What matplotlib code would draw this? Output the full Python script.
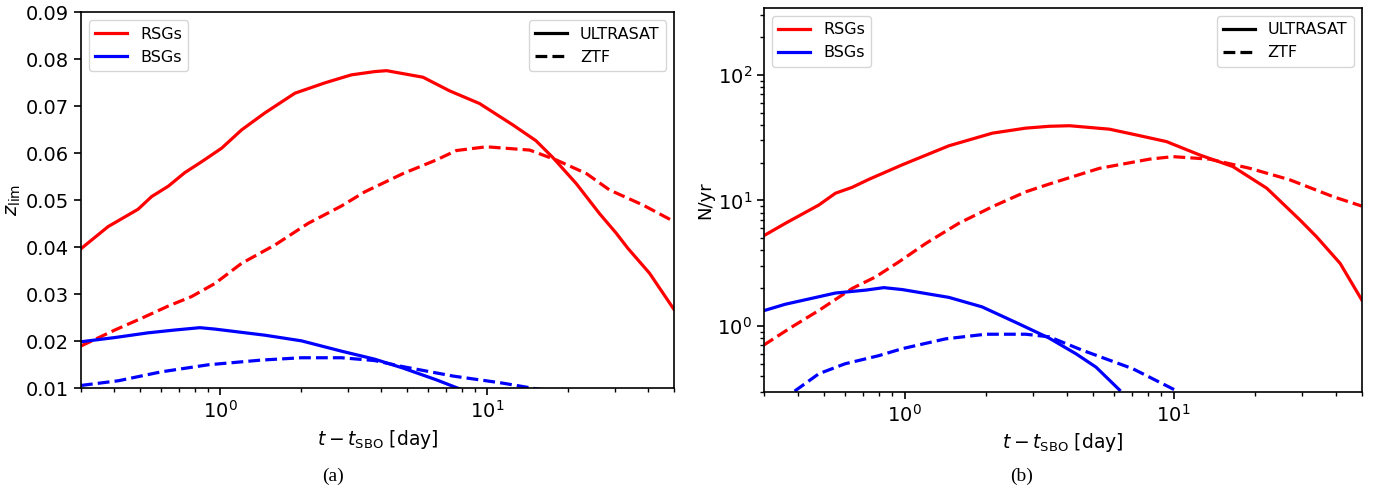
import matplotlib
matplotlib.use("Agg")
import matplotlib.pyplot as plt
from matplotlib.lines import Line2D

# ---- Panel (a): z_lim ----
t_a_rsg_ultra = [0.30, 0.379, 0.491, 0.552, 0.637, 0.735, 0.849, 1.01, 1.20, 1.466, 1.90, 2.46, 3.09, 3.78, 4.19, 5.74, 7.22, 9.35, 12.5, 15.2, 17.6, 21.5, 26.3, 30.4, 33.6, 40.5, 50.0]
z_a_rsg_ultra = [0.0397, 0.0444, 0.0481, 0.0508, 0.0530, 0.0559, 0.0582, 0.0611, 0.0650, 0.0686, 0.0728, 0.0750, 0.0767, 0.0774, 0.0776, 0.0762, 0.0733, 0.0706, 0.0660, 0.0627, 0.0591, 0.0536, 0.0472, 0.0430, 0.0398, 0.0345, 0.0268]

t_a_rsg_ztf = [0.30, 0.402, 0.506, 0.637, 0.778, 0.953, 1.20, 1.60, 2.13, 2.84, 3.47, 4.83, 6.44, 7.65, 9.91, 14.4, 18.1, 23.5, 28.7, 38.3, 50.0]
z_a_rsg_ztf = [0.0190, 0.0224, 0.0249, 0.0275, 0.0295, 0.0323, 0.0366, 0.0405, 0.0451, 0.0488, 0.0518, 0.0557, 0.0586, 0.0606, 0.0614, 0.0607, 0.0586, 0.0557, 0.0522, 0.0490, 0.0455]

t_a_bsg_ultra = [0.30, 0.402, 0.535, 0.674, 0.837, 0.953, 1.466, 2.01, 2.84, 3.78, 4.83, 6.44, 8.1, 9.0]
z_a_bsg_ultra = [0.0199, 0.0208, 0.0218, 0.0224, 0.0229, 0.0226, 0.0213, 0.0201, 0.0179, 0.0162, 0.0143, 0.0118, 0.0096, 0.0085]

t_a_bsg_ztf = [0.30, 0.414, 0.60, 0.899, 1.42, 2.01, 2.84, 3.78, 4.83, 7.44, 11.4, 15.2, 17.0]
z_a_bsg_ztf = [0.0106, 0.0116, 0.0135, 0.0150, 0.0160, 0.0165, 0.0165, 0.0159, 0.0146, 0.0126, 0.0111, 0.0099, 0.0095]

# ---- Panel (b): N/yr ----
t_b_rsg_ultra = [0.298, 0.36, 0.48, 0.553, 0.638, 0.736, 0.98, 1.46, 2.12, 2.82, 3.45, 4.10, 5.77, 7.26, 9.40, 12.5, 16.6, 22.2, 29.5, 34.0, 41.6, 50.0]
n_b_rsg_ultra = [5.2, 6.56, 9.19, 11.4, 12.7, 14.7, 19.2, 27.2, 34.3, 37.6, 38.9, 39.3, 36.9, 33.2, 29.4, 23.0, 18.6, 12.5, 6.98, 5.13, 3.15, 1.62]

t_b_rsg_ztf = [0.298, 0.38, 0.48, 0.638, 0.78, 0.952, 1.20, 1.59, 2.12, 2.82, 3.45, 5.30, 8.14, 9.94, 13.6, 19.2, 27.0, 39.2, 50.0]
n_b_rsg_ztf = [0.70, 0.98, 1.33, 1.99, 2.46, 3.24, 4.55, 6.57, 8.91, 11.7, 13.5, 18.0, 21.3, 22.3, 21.3, 18.0, 14.6, 10.7, 9.02]

t_b_bsg_ultra = [0.298, 0.36, 0.44, 0.553, 0.716, 0.837, 0.98, 1.46, 1.94, 2.66, 3.45, 4.34, 5.15, 6.29]
n_b_bsg_ultra = [1.32, 1.49, 1.64, 1.83, 1.93, 2.02, 1.95, 1.69, 1.42, 1.04, 0.80, 0.60, 0.47, 0.31]

t_b_bsg_ztf = [0.39, 0.48, 0.60, 0.80, 0.98, 1.42, 2.0, 2.82, 3.45, 4.59, 7.05, 10.1]
n_b_bsg_ztf = [0.303, 0.417, 0.50, 0.58, 0.66, 0.79, 0.86, 0.86, 0.82, 0.64, 0.457, 0.31]

xlim = (0.3, 50)
RED, BLUE = "#ff0000", "#0000ff"
LW = 2.3

fig = plt.figure(figsize=(13.79, 4.92), dpi=100)
ax1 = fig.add_axes([0.0587, 0.2108, 0.430, 0.764])
ax2 = fig.add_axes([0.554, 0.2039, 0.4334, 0.7798])

ax1.plot(t_a_rsg_ultra, z_a_rsg_ultra, color=RED, lw=LW, ls="-")
ax1.plot(t_a_rsg_ztf, z_a_rsg_ztf, color=RED, lw=LW, ls="--")
ax1.plot(t_a_bsg_ultra, z_a_bsg_ultra, color=BLUE, lw=LW, ls="-")
ax1.plot(t_a_bsg_ztf, z_a_bsg_ztf, color=BLUE, lw=LW, ls="--")
ax1.set_xscale("log")
ax1.set_xlim(*xlim)
ax1.set_ylim(0.01, 0.09)
ax1.set_yticks([0.01, 0.02, 0.03, 0.04, 0.05, 0.06, 0.07, 0.08, 0.09])
ax1.set_ylabel(r"$z_{\rm lim}$", fontsize=14, labelpad=2)

ax2.plot(t_b_rsg_ultra, n_b_rsg_ultra, color=RED, lw=LW, ls="-")
ax2.plot(t_b_rsg_ztf, n_b_rsg_ztf, color=RED, lw=LW, ls="--")
ax2.plot(t_b_bsg_ultra, n_b_bsg_ultra, color=BLUE, lw=LW, ls="-")
ax2.plot(t_b_bsg_ztf, n_b_bsg_ztf, color=BLUE, lw=LW, ls="--")
ax2.set_xscale("log")
ax2.set_yscale("log")
ax2.set_xlim(*xlim)
ax2.set_ylim(0.3, 340)
ax2.set_ylabel("N/yr", fontsize=13, labelpad=2)

for ax in (ax1, ax2):
    ax.set_xlabel(r"$t - t_{\rm SBO}$ [day]", fontsize=13.5)
    ax.tick_params(axis="both", which="major", labelsize=14, length=5, width=1.2)
    ax.tick_params(axis="both", which="minor", length=3, width=1.0)
    for s in ax.spines.values():
        s.set_linewidth(1.2)
    h1 = [Line2D([], [], color=RED, lw=LW), Line2D([], [], color=BLUE, lw=LW)]
    leg1 = ax.legend(h1, ["RSGs", "BSGs"], loc="upper left", fontsize=11.5)
    ax.add_artist(leg1)
    h2 = [Line2D([], [], color="k", lw=LW, ls="-"), Line2D([], [], color="k", lw=LW, ls="--")]
    ax.legend(h2, ["ULTRASAT", "ZTF"], loc="upper right", fontsize=11.5)

fig.text(0.2415, 0.032, "(a)", ha="center", va="center", fontsize=14, family="Liberation Serif")
fig.text(0.741, 0.032, "(b)", ha="center", va="center", fontsize=14, family="Liberation Serif")

fig.savefig("out.png", dpi=100)
